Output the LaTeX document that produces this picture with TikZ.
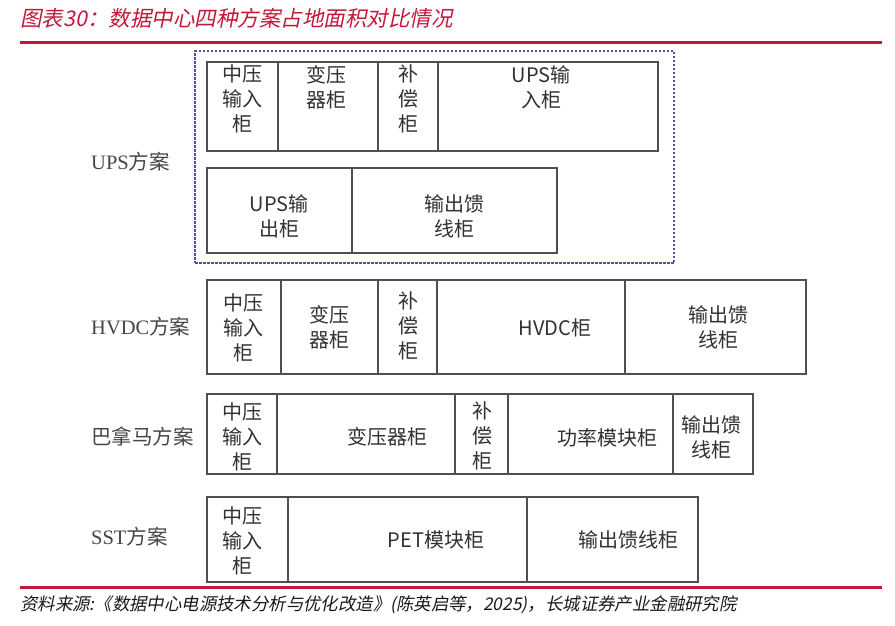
\documentclass[tikz,border=0pt]{standalone}
\usepackage{fontspec}
\usetikzlibrary{fit}
\newfontfamily\cjk{Noto Sans CJK SC}
\newfontfamily\cjksl{Noto Sans CJK SC}[FakeSlant=0.2]
\newfontfamily\latserif{Liberation Serif}
\newfontfamily\song{Noto Sans CJK SC}
\definecolor{titlered}{RGB}{196,24,58}
\definecolor{lineclr}{RGB}{80,80,80}
\definecolor{dashblue}{RGB}{80,80,170}
\definecolor{txt}{RGB}{50,50,50}
\definecolor{lbl}{RGB}{70,70,70}
\begin{document}
\begin{tikzpicture}[x=1pt,y=-1pt,
  cell/.style={draw=lineclr, line width=1.4pt, inner sep=0pt},
  ctext/.style={font=\cjk\fontsize{20}{25}\selectfont, text=txt, align=center, inner sep=0pt},
  schemelbl/.style={font=\fontsize{20.5}{24}\selectfont, text=lbl, anchor=west, inner sep=0pt},
  redrule/.style={draw=titlered, line width=3pt}
]
\useasboundingbox (0,0) rectangle (895,625);
\fill[white] (0,0) rectangle (895,625);

% title and rules
\node[anchor=west, inner sep=0pt, text=titlered, font=\cjksl\fontsize{21.5}{24}\selectfont] (title) at (20,18) {图表30：数据中心四种方案占地面积对比情况};
\coordinate (r1a) at (20,42); \coordinate (r1b) at (882,42);
\draw[redrule] (r1a) -- (r1b);
\coordinate (r2a) at (20,587); \coordinate (r2b) at (882,587);
\draw[redrule] (r2a) -- (r2b);
\node[anchor=west, inner sep=0pt, text=black!90, font=\cjksl\fontsize{17.4}{20}\selectfont] (source) at (20,605) {资料来源:《数据中心电源技术分析与优化改造》(陈英启等，2025)，长城证券产业金融研究院};

% scheme labels
\node[schemelbl] (lups) at (91,162) {{\latserif UPS}{\song 方案}};
\node[schemelbl] (lhvdc) at (91,327) {{\latserif HVDC}{\song 方案}};
\node[schemelbl] (lpan) at (91,437) {{\song 巴拿马方案}};
\node[schemelbl] (lsst) at (91,537) {{\latserif SST}{\song 方案}};

% UPS dashed frame
\node[draw=dashblue, line width=1.3pt, dash pattern=on 2.5pt off 1.5pt, inner sep=0pt, fit={(195,51) (674,263)}] (upsframe) {};

% UPS row 1
\node[cell, fit={(207,62) (278,151)}] (u1) {};
\node[cell, fit={(278,62) (378,151)}] (u2) {};
\node[cell, fit={(378,62) (438,151)}] (u3) {};
\node[cell, fit={(438,62) (658,151)}] (u4) {};
\node[ctext] (u1t) at (242,99) {中压\\输入\\柜};
\node[ctext] (u2t) at (326,87.5) {变压\\器柜};
\node[ctext] (u3t) at (408,99) {补\\偿\\柜};
\node[ctext] (u4t) at (541,87.5) {UPS输\\入柜};
% UPS row 2
\node[cell, fit={(207,168) (352,253)}] (u5) {};
\node[cell, fit={(352,168) (557,253)}] (u6) {};
\node[ctext] (u5t) at (279,216) {UPS输\\出柜};
\node[ctext] (u6t) at (454,216) {输出馈\\线柜};

% HVDC row
\node[cell, fit={(207,280) (281,374)}] (h1) {};
\node[cell, fit={(281,280) (378,374)}] (h2) {};
\node[cell, fit={(378,280) (437,374)}] (h3) {};
\node[cell, fit={(437,280) (625,374)}] (h4) {};
\node[cell, fit={(625,280) (806,374)}] (h5) {};
\node[ctext] (h1t) at (243,328) {中压\\输入\\柜};
\node[ctext] (h2t) at (329,327.5) {变压\\器柜};
\node[ctext] (h3t) at (408,326) {补\\偿\\柜};
\node[ctext] (h4t) at (555,328) {HVDC柜};
\node[ctext] (h5t) at (718,327.5) {输出馈\\线柜};

% Panama row
\node[cell, fit={(207,394) (277,474)}] (b1) {};
\node[cell, fit={(277,394) (455,474)}] (b2) {};
\node[cell, fit={(455,394) (508,474)}] (b3) {};
\node[cell, fit={(508,394) (673,474)}] (b4) {};
\node[cell, fit={(673,394) (753,474)}] (b5) {};
\node[ctext] (b1t) at (242,437) {中压\\输入\\柜};
\node[ctext] (b2t) at (387,437) {变压器柜};
\node[ctext] (b3t) at (482,436) {补\\偿\\柜};
\node[ctext] (b4t) at (607,438) {功率模块柜};
\node[ctext] (b5t) at (711,437) {输出馈\\线柜};

% SST row
\node[cell, fit={(207,497) (288,582)}] (s1) {};
\node[cell, fit={(288,497) (527,582)}] (s2) {};
\node[cell, fit={(527,497) (698,582)}] (s3) {};
\node[ctext] (s1t) at (242,541) {中压\\输入\\柜};
\node[ctext] (s2t) at (436,540) {PET模块柜};
\node[ctext] (s3t) at (628,540) {输出馈线柜};
\end{tikzpicture}
\end{document}
